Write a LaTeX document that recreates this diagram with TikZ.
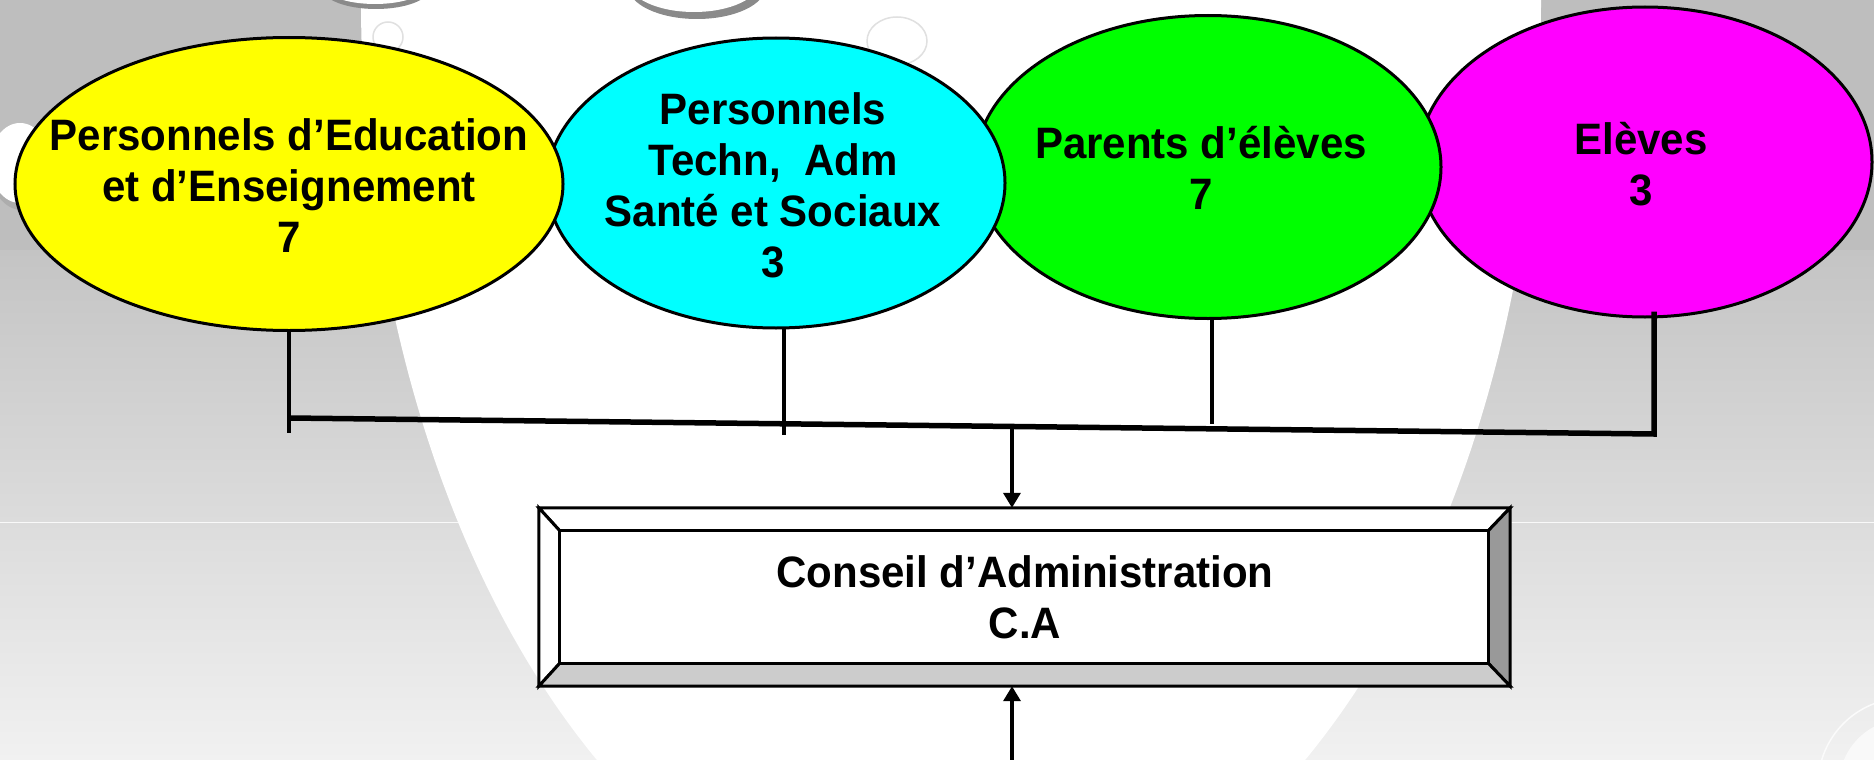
\documentclass[tikz,border=0pt]{standalone}
\usepackage{fontspec}
\setmainfont{Liberation Sans}[FakeStretch=0.955]
\usetikzlibrary{arrows.meta,calc,shapes.geometric}
\definecolor{bgtop}{HTML}{BEBEBE}
\definecolor{bgmid}{HTML}{C4C4C4}
\definecolor{bgbot}{HTML}{F1F1F1}
\definecolor{bevR}{HTML}{999999}
\definecolor{bevB}{HTML}{CCCCCC}
\definecolor{cYel}{HTML}{FFFF00}
\definecolor{cCya}{HTML}{00FFFF}
\definecolor{cGre}{HTML}{00FF00}
\definecolor{cMag}{HTML}{FF00FF}
\definecolor{rim}{HTML}{8A8A8A}
\begin{document}
\begin{tikzpicture}[x=1pt,y=-1pt,
  bubble/.style={ellipse, draw=black, line width=3pt, inner sep=0pt},
  lbl/.style={font=\fontsize{44}{51}\selectfont\bfseries, align=center, inner sep=0pt},
  stem/.style={line width=4.2pt},
  bus/.style={line width=5.5pt, line join=miter},
  arr/.style={line width=3.5pt, -{Triangle[length=15pt,width=17pt]}},
  bevel/.style={draw=black, line width=3pt, line join=miter},
  ring/.style={draw=black!12, line width=1.5pt}
]
\useasboundingbox (0,0) rectangle (1874,760);
\clip (0,0) rectangle (1874,760);
% background
\fill[bgtop] (0,0) rectangle (1874,251);
\shade[top color=bgmid, bottom color=bgbot] (0,250) rectangle (1874,760);
\draw[white!60!bgbot, line width=1pt] (0,522) -- (1874,522);
\fill[white] (951,0) ellipse (590 and 950);
% decorative bubbles
\fill[rim] (376,-12) ellipse (54 and 21);
\fill[white] (375,-15) ellipse (52 and 19);
\fill[rim] (697,-14) ellipse (69 and 33);
\fill[white] (694,-19) ellipse (66 and 31);
\draw[ring] (388,37) circle (15);
\draw[ring] (897,41) ellipse (30 and 24);
\fill[rim!70] (22,168) ellipse (32 and 42);
\fill[white] (20,163) ellipse (30 and 40);
\draw[white!70!bgbot, line width=1.5pt] (1905,785) circle (87);
\fill[white!60!bgbot] (1905,785) circle (66);
% ellipses (left ones on top)
\node[bubble, fill=cMag, minimum width=454, minimum height=310] (pm) at (1645,162) {};
\node[bubble, fill=cGre, minimum width=466, minimum height=303] (pg) at (1208,167) {};
\node[bubble, fill=cCya, minimum width=458, minimum height=290] (pt) at (776,183) {};
\node[bubble, fill=cYel, minimum width=548, minimum height=293] (pe) at (289,184) {};
% labels
\node[lbl] (tpe) at (289,186) {Personnels d’Education\\et d’Enseignement\\7};
\node[lbl] (tpt) at (773,185) {Personnels\\Techn,~~Adm\\Santé et Sociaux\\3};
\node[lbl] (tpg) at (1201,168) {Parents d’élèves\\7};
\node[lbl] (tpm) at (1641,164) {Elèves\\3};
% connectors
\coordinate (busL) at (290,418);
\coordinate (busR) at (1654,434);
\coordinate (ylow) at (0,433);
\draw[stem] (pe.south) -- (pe.south |- ylow);
\draw[stem] ($(pt.south)+(8,-1)$) -- ++(0,106);
\draw[stem] ($(pg.south)+(4,-1)$) -- ++(0,105);
\draw[bus] ($(pm.south)+(9,-7)$) -- (busR) -- (busL);
% central box
\node[minimum width=971, minimum height=178, inner sep=0pt] (ca) at (1024.5,597) {};
\coordinate (inw) at ($(ca.north west)+(21,23)$);
\coordinate (ine) at ($(ca.north east)+(-22,23)$);
\coordinate (isw) at ($(ca.south west)+(21,-23)$);
\coordinate (ise) at ($(ca.south east)+(-22,-23)$);
\filldraw[bevel, fill=white] (ca.north west) -- (ca.north east) -- (ine) -- (inw) -- cycle;
\filldraw[bevel, fill=white] (ca.north west) -- (inw) -- (isw) -- (ca.south west) -- cycle;
\filldraw[bevel, fill=bevR] (ca.north east) -- (ca.south east) -- (ise) -- (ine) -- cycle;
\filldraw[bevel, fill=bevB] (ca.south west) -- (isw) -- (ise) -- (ca.south east) -- cycle;
\filldraw[bevel, fill=white] (inw) rectangle (ise);
\node[lbl] (tca) at (1025,597) {Conseil d’Administration\\C.A};
% arrows
\coordinate (busmid) at ($(busL)!0.5293!(busR)$);
\coordinate (bot) at (1012,762);
\draw[arr] (busmid) -- (busmid |- ca.north);
\draw[arr] (bot) -- (bot |- ca.south);
\end{tikzpicture}
\end{document}
